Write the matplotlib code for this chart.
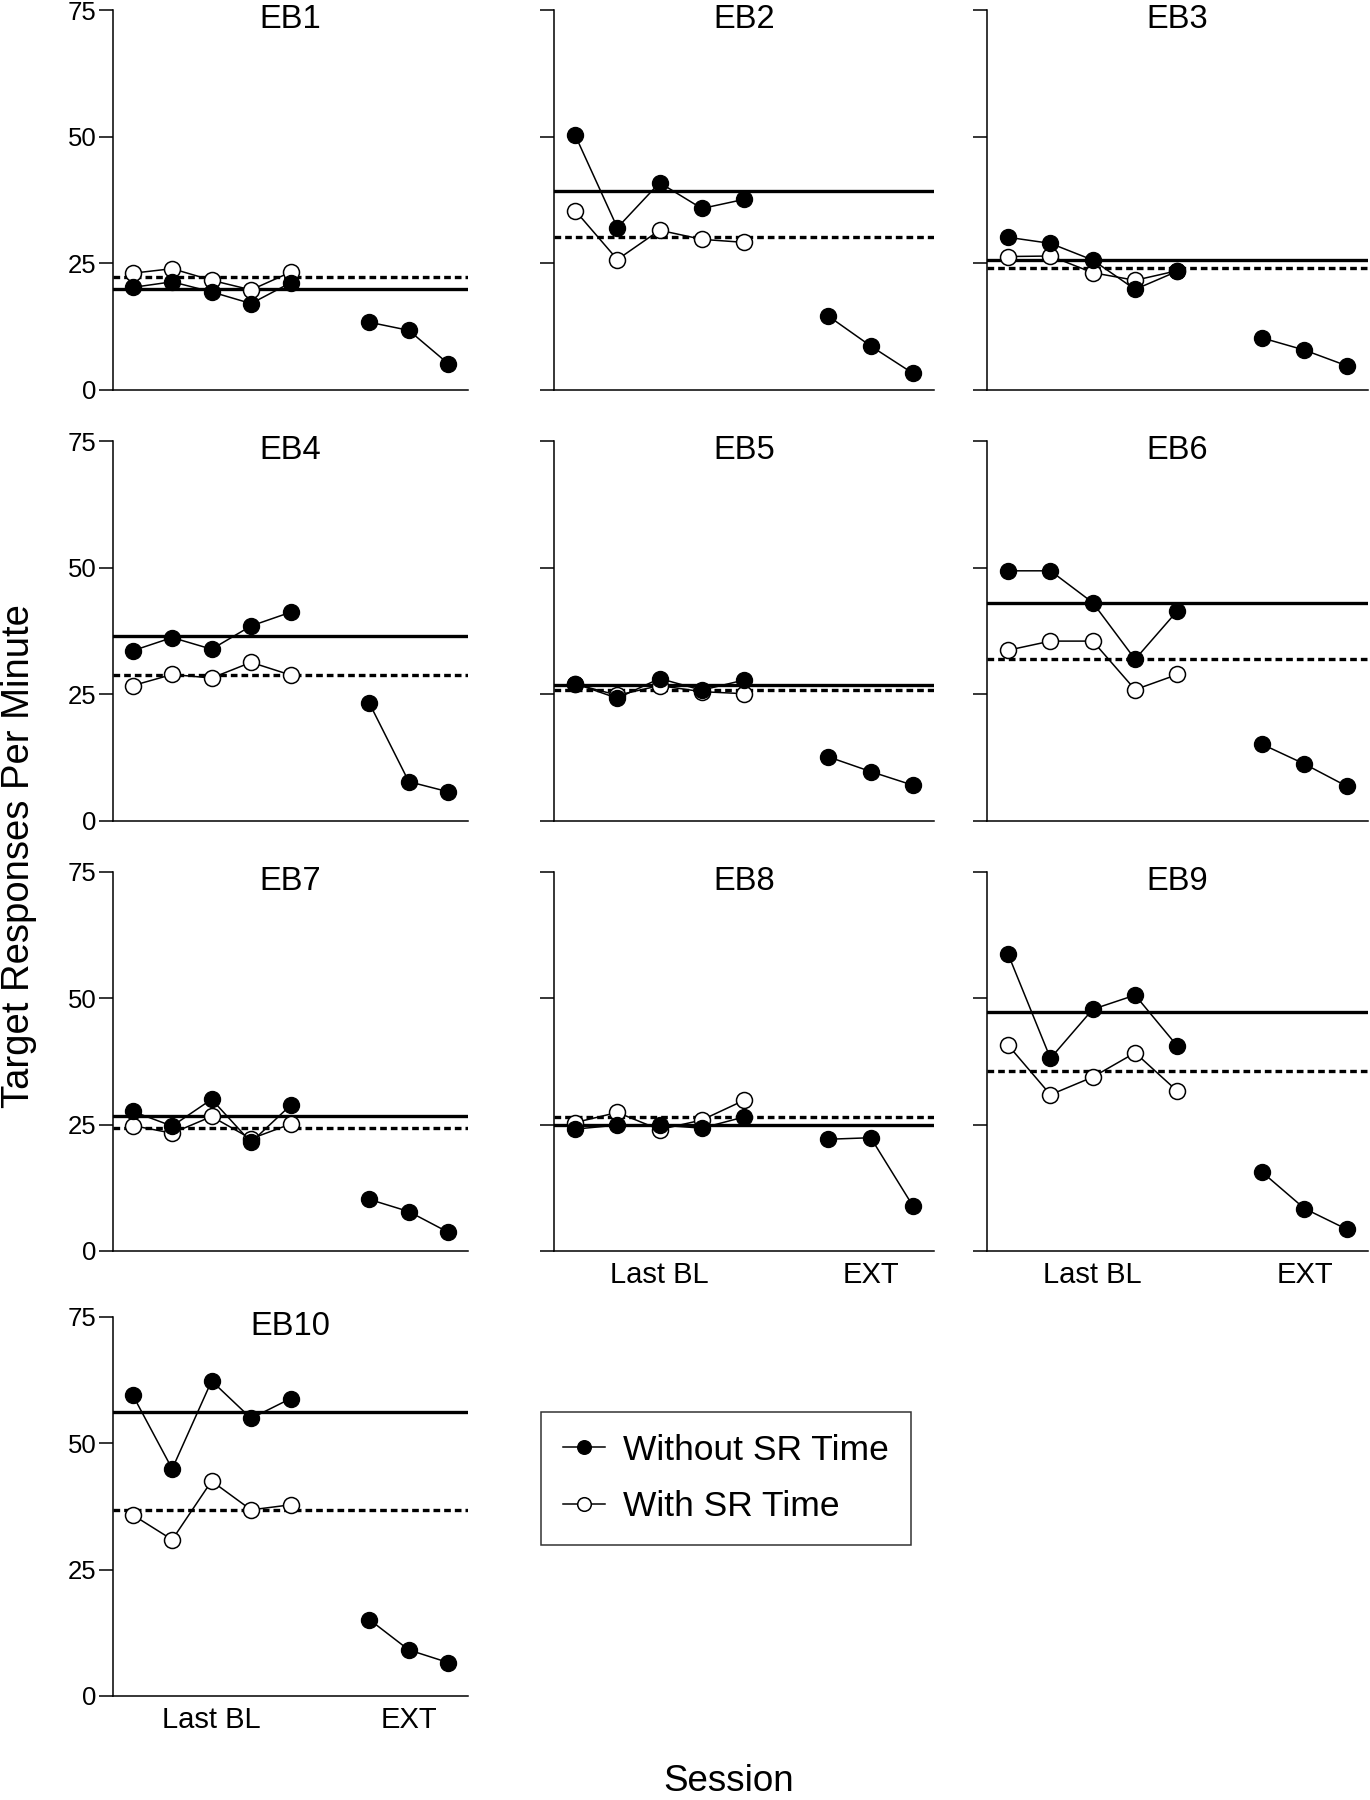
import matplotlib
matplotlib.use("Agg")
import matplotlib.pyplot as plt

plt.rcParams['font.family'] = ['Liberation Sans', 'DejaVu Sans']

# data
panels = ['EB1', 'EB2', 'EB3', 'EB4', 'EB5', 'EB6', 'EB7', 'EB8', 'EB9', 'EB10']
bl_sessions = [1, 2, 3, 4, 5]
ext_sessions = [7, 8, 9]
phase_labels = ['Last BL', 'EXT']

without_bl = [
    [20.2, 21.3, 19.3, 17.0, 21.1],
    [50.3, 32.0, 40.9, 35.8, 37.6],
    [30.1, 28.9, 25.6, 19.8, 23.4],
    [33.6, 36.2, 33.9, 38.5, 41.2],
    [27.1, 24.2, 28.1, 25.8, 27.8],
    [49.4, 49.4, 43.1, 31.9, 41.5],
    [27.6, 24.7, 30.0, 21.5, 28.8],
    [24.1, 24.9, 24.9, 24.3, 26.5],
    [58.7, 38.1, 47.8, 50.6, 40.5],
    [59.5, 44.9, 62.3, 54.9, 58.8],
]
with_bl = [
    [23.0, 23.9, 21.6, 19.7, 23.2],
    [35.4, 25.7, 31.5, 29.7, 29.1],
    [26.3, 26.4, 23.1, 21.6, 23.5],
    [26.7, 28.9, 28.2, 31.3, 28.8],
    [27.0, 24.8, 26.7, 25.5, 25.1],
    [33.7, 35.5, 35.5, 25.9, 28.9],
    [24.8, 23.3, 26.6, 22.2, 25.1],
    [25.4, 27.4, 24.0, 25.9, 29.8],
    [40.7, 30.9, 34.4, 39.2, 31.6],
    [35.8, 30.9, 42.5, 36.8, 37.8],
]
without_ext = [
    [13.3, 11.7, 5.1],
    [14.5, 8.6, 3.2],
    [10.2, 7.8, 4.7],
    [23.2, 7.7, 5.7],
    [12.6, 9.7, 7.0],
    [15.1, 11.2, 6.8],
    [10.2, 7.8, 3.7],
    [22.1, 22.4, 8.9],
    [15.6, 8.4, 4.3],
    [15.1, 9.1, 6.6],
]
mean_without = [19.9, 39.3, 25.7, 36.5, 26.8, 43.1, 26.6, 24.9, 47.3, 56.1]
mean_with = [22.2, 30.2, 24.1, 28.8, 25.9, 32.0, 24.4, 26.5, 35.5, 36.8]

fig = plt.figure(figsize=(13.7, 18), dpi=100)

# axes boxes in figure fractions
col_left = [0.0825, 0.4044, 0.7204]
col_width = [0.2591, 0.2774, 0.2781]
row_bottom = [0.7836, 0.5441, 0.3050, 0.0578]
row_height = 0.2107

handles = None
for i, name in enumerate(panels):
    r, c = divmod(i, 3)
    ax = fig.add_axes([col_left[c], row_bottom[r], col_width[c], row_height])

    ax.axhline(mean_without[i], color='black', lw=2.4, zorder=1)
    ax.axhline(mean_with[i], color='black', lw=2.4, ls=(0, (2.0, 1.2)), zorder=1)

    h2, = ax.plot(bl_sessions, with_bl[i], color='black', lw=1.1, marker='o',
                  ms=11.5, mfc='white', mec='black', mew=1.1, zorder=3, clip_on=False)
    h1, = ax.plot(bl_sessions, without_bl[i], color='black', lw=1.1, marker='o',
                  ms=11.5, mfc='black', mec='black', zorder=4, clip_on=False)
    ax.plot(ext_sessions, without_ext[i], color='black', lw=1.1, marker='o',
            ms=11.5, mfc='black', mec='black', zorder=4, clip_on=False)
    if handles is None:
        handles = [h1, h2]

    ax.set_xlim(0.5, 9.5)
    ax.set_ylim(0, 75)
    ax.set_yticks([0, 25, 50, 75])
    ax.spines['top'].set_visible(False)
    ax.spines['right'].set_visible(False)
    ax.spines['left'].set_linewidth(1.1)
    ax.spines['bottom'].set_linewidth(1.1)
    ax.tick_params(axis='y', direction='out', length=10, width=1.1, pad=2, labelsize=18.5)
    ax.tick_params(axis='x', length=0, pad=7, labelsize=21)

    if c == 0:
        ax.set_yticklabels(['0', '25', '50', '75'])
    else:
        ax.set_yticklabels([])
    if name in ('EB8', 'EB9', 'EB10'):
        ax.set_xticks([3, 8])
        ax.set_xticklabels(phase_labels)
    else:
        ax.set_xticks([])

    ax.text(0.5, 0.953, name, transform=ax.transAxes, ha='center', va='baseline', fontsize=23.5)

leg = fig.legend(handles, ['Without SR Time', 'With SR Time'], loc='upper left',
                 bbox_to_anchor=(540.7 / 1370, 1 - 1411.7 / 1800), borderaxespad=0,
                 fontsize=25.5, handlelength=1.2, handletextpad=0.5, borderpad=0.62,
                 labelspacing=0.67, frameon=True, fancybox=False, markerscale=0.85)
leg.get_frame().set_edgecolor('black')
leg.get_frame().set_linewidth(1.1)

fig.text(19.5 / 1370, 1 - 856 / 1800, 'Target Responses Per Minute', rotation=90,
         ha='center', va='center', fontsize=27.5)
fig.text(729 / 1370, 1 - 1791 / 1800, 'Session', ha='center', va='baseline', fontsize=26.5)

fig.savefig('out.png', dpi=100)
